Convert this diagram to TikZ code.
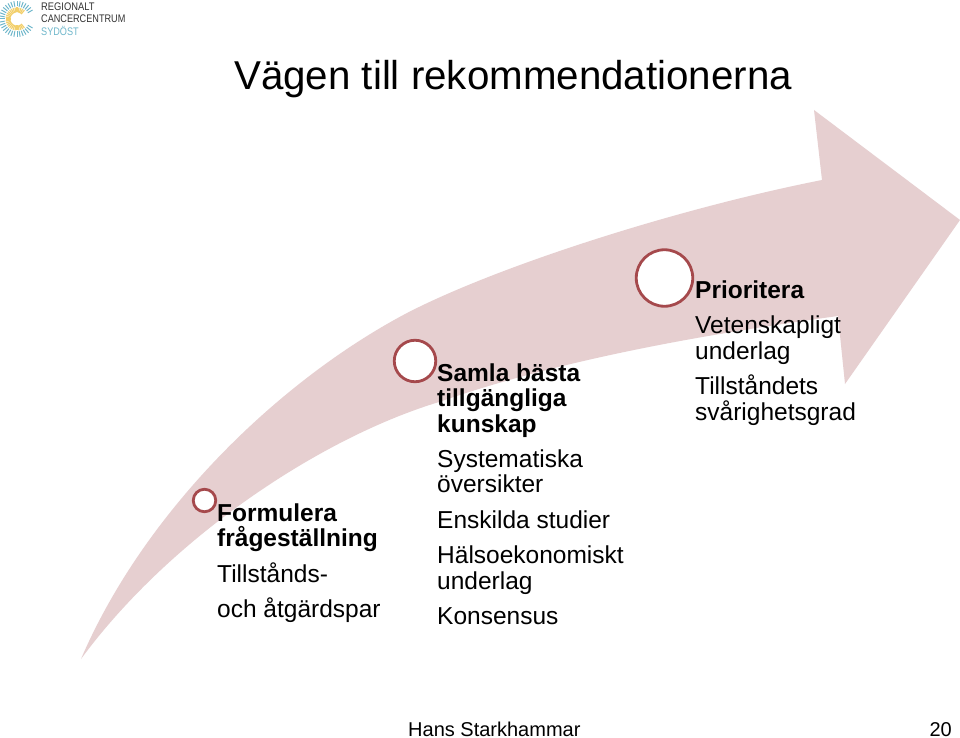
\documentclass[tikz,border=0pt]{standalone}
\usepackage{fontspec}
\usepackage{graphicx}
\setmainfont{Liberation Sans}
\definecolor{arrowpink}{HTML}{E6CFD0}
\definecolor{ringred}{HTML}{A5494C}
\definecolor{sydblue}{HTML}{6FB7CB}
\definecolor{logotext}{HTML}{333333}
\definecolor{sunyellow}{HTML}{F2CF6A}
\tikzset{
  x=1pt,y=-1pt,
  ring/.style={circle,draw=ringred,fill=white,line width=2.8pt,inner sep=0pt},
  head/.style={anchor=base west,font=\fontsize{24.5}{24.5}\selectfont\bfseries,inner sep=0pt},
  body/.style={anchor=base west,font=\fontsize{24.5}{24.5}\selectfont,inner sep=0pt},
  logot/.style={anchor=base west,font=\fontsize{11}{11}\selectfont,inner sep=0pt,text=logotext},
}
\begin{document}
\begin{tikzpicture}
\useasboundingbox (0,0) rectangle (960,738);
\fill[white] (0,0) rectangle (960,738);
% arrow
\fill[arrowpink] (81,659)
  .. controls (145,510) and (280,380) .. (407,313)
  .. controls (500,265) and (680,208) .. (822,180)
  -- (814,110) -- (960,220) -- (845,384) -- (838,316)
  .. controls (700,335) and (560,360) .. (439,402)
  .. controls (320,438) and (170,538) .. (81,659) -- cycle;
% logo
\foreach \a in {30,40,...,330}{
  \draw[sydblue,line width=1pt] (17,19)++(\a:12.5) -- ++(\a:5.5);
}
\foreach \a in {50,60,...,310}{
  \draw[sunyellow,line width=1.2pt] (17,19)++(\a:6.5) -- ++(\a:5);
}
\node[logot] (l1) at (41,11) {\scalebox{0.85}[1]{REGIONALT}};
\node[logot] (l2) at (41,23) {\scalebox{0.83}[1]{CANCERCENTRUM}};
\node[logot,text=sydblue] (l3) at (41,36) {\scalebox{0.83}[1]{SYDÖST}};
% title
\node[anchor=base west,inner sep=0pt,font=\fontsize{40.3}{40.3}\selectfont] (title) at (234,90) {Vägen till rekommendationerna};
% rings
\node[ring,minimum size=22.5pt] (r1) at (204.5,500.5) {};
\node[ring,minimum size=41.5pt] (r2) at (415,361) {};
\node[ring,minimum size=56.5pt] (r3) at (664.5,278) {};
% column 1
\node[head] (a1) at (217,521) {Formulera};
\node[head] (a2) at (217,546) {frågeställning};
\node[body] (a3) at (217,582) {Tillstånds-};
\node[body] (a4) at (217,617) {och åtgärdspar};
% column 2
\node[head] (b1) at (437,381) {Samla bästa};
\node[head] (b2) at (437,406) {tillgängliga};
\node[head] (b3) at (437,432) {kunskap};
\node[body] (b4) at (437,467) {Systematiska};
\node[body] (b5) at (437,492) {översikter};
\node[body] (b6) at (437,528) {Enskilda studier};
\node[body] (b7) at (437,563) {Hälsoekonomiskt};
\node[body] (b8) at (437,589) {underlag};
\node[body] (b9) at (437,624) {Konsensus};
% column 3
\node[head] (c1) at (695,298) {Prioritera};
\node[body] (c2) at (695,333) {Vetenskapligt};
\node[body] (c3) at (695,359) {underlag};
\node[body] (c4) at (695,394) {Tillståndets};
\node[body] (c5) at (695,420) {svårighetsgrad};
% footer
\node[anchor=base west,inner sep=0pt,font=\fontsize{20}{20}\selectfont] (f1) at (408,736) {Hans Starkhammar};
\node[anchor=base east,inner sep=0pt,font=\fontsize{20}{20}\selectfont] (f2) at (952,736) {20};
\end{tikzpicture}
\end{document}
